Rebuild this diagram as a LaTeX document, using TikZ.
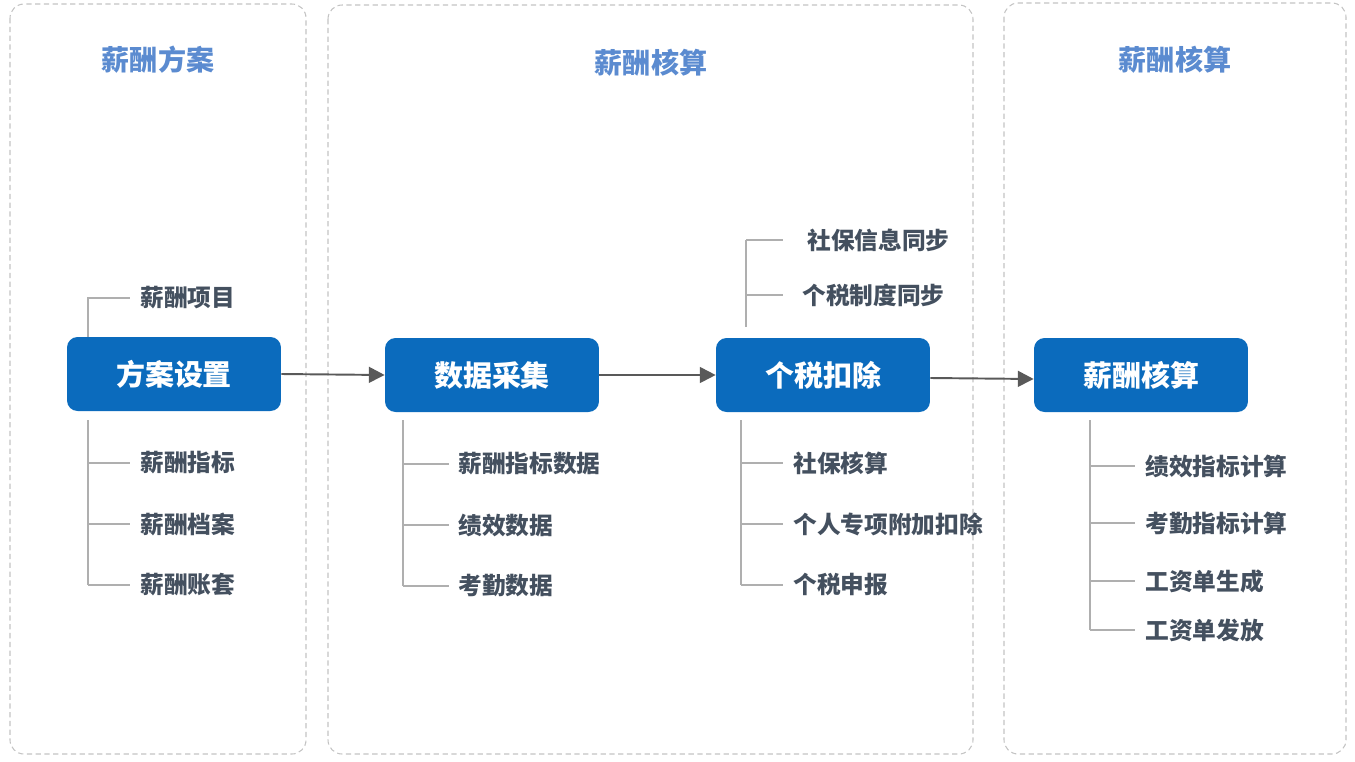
\documentclass[tikz,border=0pt]{standalone}
\usepackage{fontspec}
\setmainfont{Noto Sans CJK SC}
\usetikzlibrary{arrows.meta}
\definecolor{boxblue}{RGB}{11,107,189}
\definecolor{titleblue}{RGB}{91,139,208}
\definecolor{itemgray}{RGB}{68,80,95}
\definecolor{linegray}{RGB}{175,175,175}
\definecolor{panelgray}{RGB}{195,195,195}
\tikzset{
  panel/.style={draw=panelgray, dash pattern=on 3pt off 2pt, rounded corners=8pt, line width=0.6pt},
  paneltitle/.style={text=titleblue, font=\fontsize{16}{18}\selectfont\bfseries},
  stepbox/.style={fill=boxblue, rounded corners=6pt, minimum width=4.28cm, minimum height=1.48cm, text=white, font=\fontsize{16.5}{19}\selectfont\bfseries},
  item/.style={anchor=west, text=itemgray, inner sep=0pt, font=\fontsize{13.5}{16}\selectfont\bfseries},
  branch/.style={draw=linegray, line width=1.1pt},
  flow/.style={draw=black!65, line width=1.1pt, -{Triangle[length=9pt,width=9pt]}}
}
\begin{document}
\begin{tikzpicture}[x=0.02cm, y=-0.02cm]
  \useasboundingbox (0,0) rectangle (1355,761);

  % panels
  \draw[panel] (10,4) rectangle (306,754);
  \draw[panel] (328,5) rectangle (973,754);
  \draw[panel] (1004,3) rectangle (1346,754);
  \node[paneltitle] (tplan) at (158,60) {薪酬方案};
  \node[paneltitle] (tmid) at (651,63) {薪酬核算};
  \node[paneltitle] (tcalc) at (1175,60) {薪酬核算};

  % main steps
  \node[stepbox] (plan) at (174,374) {方案设置};
  \node[stepbox] (collect) at (492,375) {数据采集};
  \node[stepbox] (tax) at (823,375) {个税扣除};
  \node[stepbox] (calc) at (1141,375) {薪酬核算};
  \draw[flow] (plan.east) -- (collect.west);
  \draw[flow] (collect.east) -- (tax.west);
  \draw[flow] ([yshift=-0.06cm]tax.east) -- ([yshift=-0.08cm]calc.west);

  % plan tree
  \coordinate (pt) at (88,298);
  \coordinate (pb) at (88,420);
  \coordinate (pe) at (130,0);
  \node[item] (pitem) at (140,298) {薪酬项目};
  \draw[branch] (pt |- plan.north) -- (pt) -- (pe |- pt);
  \foreach \name/\y/\txt in {pind/463/薪酬指标, pfile/524/薪酬档案, pset/585/薪酬账套}
    \node[item] (\name) at (140,\y) {\txt};
  \draw[branch] (pb) -- (pb |- pset.west);
  \foreach \name in {pind,pfile,pset}
    \draw[branch] (pb |- \name.west) -- (pe |- \name.west);

  % collect tree
  \coordinate (cb) at (403,420);
  \coordinate (ce) at (449,0);
  \foreach \name/\y/\txt in {cind/464/薪酬指标数据, cperf/525/绩效数据, catt/586/考勤数据}
    \node[item] (\name) at (458,\y) {\txt};
  \draw[branch] (cb) -- (cb |- catt.west);
  \foreach \name in {cind,cperf,catt}
    \draw[branch] (cb |- \name.west) -- (ce |- \name.west);

  % tax tree
  \coordinate (xt) at (746,327);
  \coordinate (xe) at (783,0);
  \node[item] (xsync) at (807,240) {社保信息同步};
  \node[item] (xrule) at (802,295) {个税制度同步};
  \draw[branch] (xt) -- (xt |- xsync.west);
  \foreach \name in {xsync,xrule}
    \draw[branch] (xt |- \name.west) -- (xe |- \name.west);
  \coordinate (xb) at (741,420);
  \foreach \name/\y/\txt in {xsoc/463/社保核算, xspec/524/个人专项附加扣除, xdecl/585/个税申报}
    \node[item] (\name) at (793,\y) {\txt};
  \draw[branch] (xb) -- (xb |- xdecl.west);
  \foreach \name in {xsoc,xspec,xdecl}
    \draw[branch] (xb |- \name.west) -- (xe |- \name.west);

  % calc tree
  \coordinate (kb) at (1090,420);
  \coordinate (ke) at (1135,0);
  \foreach \name/\y/\txt in {kperf/466/绩效指标计算, katt/523/考勤指标计算, kslip/581/工资单生成, kpay/630/工资单发放}
    \node[item] (\name) at (1145,\y) {\txt};
  \draw[branch] (kb) -- (kb |- kpay.west);
  \foreach \name in {kperf,katt,kslip,kpay}
    \draw[branch] (kb |- \name.west) -- (ke |- \name.west);
\end{tikzpicture}
\end{document}
